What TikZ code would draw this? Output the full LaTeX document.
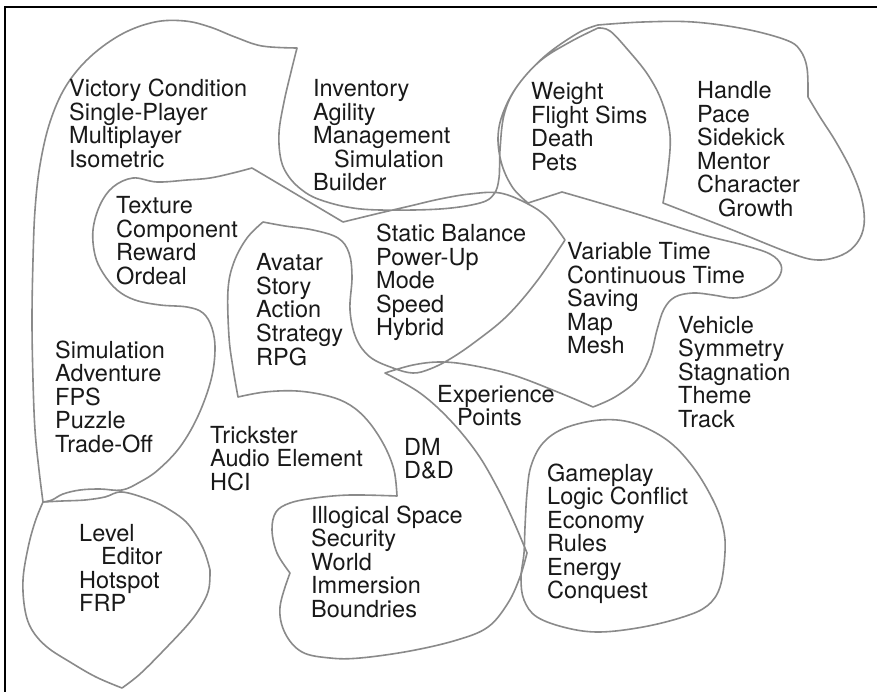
\documentclass[tikz,border=0pt]{standalone}
\usepackage{fontspec}
\setmainfont{TeX Gyre Heros}
\definecolor{blobgray}{RGB}{138,138,138}
\newcommand{\wl}[1]{\hbox{#1}}
\tikzset{
  blob/.style={draw=blobgray, line width=1.6pt, line join=round, line cap=round},
  words/.style={anchor=base west, inner sep=0pt, text=black!90,
    font={\fontsize{23.5}{23.5}\selectfont\lineskiplimit=-30pt}},
  frameline/.style={draw=black, line width=1.5pt},
}
\begin{document}
\begin{tikzpicture}[x=1pt,y=-1pt]
\useasboundingbox (0,0) rectangle (877,692);
\fill[white] (0,0) rectangle (877,692);
\draw[frameline] (5,692) -- (5,7) -- (877,7);

% big continuous stroke
\draw[blob]
 plot[smooth,tension=0.6] coordinates {(43,502) (39,470) (35,430) (33,380) (32,320) (33,260) (35,210) (40,165) (50,122) (66,86) (90,57) (122,34) (155,22) (185,21) (210,27) (235,37) (262,46) (297,48)}
 -- plot[smooth,tension=0.6] coordinates {(297,48) (291,72) (284,102) (279,133) (281,160) (289,177) (302,190) (318,199) (347,207) (380,210) (440,209) (480,203) (494,194) (499,178) (500,150) (504,115) (516,88) (540,61) (570,42) (598,28)}
 -- plot[smooth,tension=0.6] coordinates {(598,28) (610,31) (628,50) (648,75) (662,102) (670,135) (668,170) (663,203)}
 -- plot[smooth,tension=0.6] coordinates {(663,203) (730,229) (790,253) (818,260) (842,255) (857,243) (864,225) (862,200) (852,172) (836,142) (820,117) (808,97)}
 -- plot[smooth,tension=0.6] coordinates {(808,97) (807,68) (800,50) (786,40) (745,29) (693,22) (643,22) (598,25)}
 -- plot[smooth,tension=0.6] coordinates {(598,25) (578,33) (545,56) (518,85) (503,113) (498,138) (502,165) (513,188) (528,203)}
 -- (562,192)
 -- plot[smooth,tension=0.6] coordinates {(562,192) (600,203) (640,215) (700,234) (743,245) (770,254) (781,265) (779,277) (768,287) (750,295) (733,298) (713,295) (693,293) (675,297) (664,309) (657,330) (650,357) (637,380) (615,397) (593,407)}
 -- plot[smooth,tension=0.6] coordinates {(593,407) (560,393) (513,375) (470,365) (440,362) (413,365) (385,373)}
 -- plot[smooth,tension=0.6] coordinates {(385,373) (420,393) (450,420) (477,453) (497,487) (513,520) (527,553)}
 -- plot[smooth,tension=0.6] coordinates {(527,553) (520,577) (508,603) (488,627) (457,640) (410,651) (360,658) (330,658) (302,652) (285,633) (280,607) (290,573)}
 -- plot[smooth,tension=0.6] coordinates {(290,573) (277,553) (272,530) (276,512) (290,503) (315,498) (350,495) (397,496)}
 -- plot[smooth,tension=0.6] coordinates {(397,496) (394,470) (384,445) (368,421) (350,405) (328,396) (297,391) (265,392) (238,397)}
 -- plot[smooth,tension=0.6] coordinates {(238,397) (233,368) (229,337) (228,290) (234,262) (247,238) (263,222)}
 -- plot[smooth,tension=0.6] coordinates {(263,222) (285,226) (313,230) (338,238) (349,253) (352,277) (350,310) (356,338) (370,357) (393,368) (413,373) (430,369) (450,359) (475,342) (507,316) (537,281) (565,240)}
 -- plot[smooth,tension=0.6] coordinates {(565,240) (548,218) (528,204) (500,193) (470,194) (440,199) (410,206) (380,213) (343,222)}
 -- (252,168)
 -- plot[smooth,tension=0.6] coordinates {(252,168) (233,173) (210,178) (187,180) (157,182) (133,178) (113,187) (100,205) (93,230) (95,255) (103,273) (117,290) (135,300) (160,305) (187,307) (203,313) (212,328) (215,350) (211,380) (198,416) (180,447) (158,470) (140,482) (122,490) (100,489) (80,490) (63,494) (52,500) (43,502)}
 -- cycle;

% level blob
\draw[blob]
 plot[smooth,tension=0.6] coordinates {(43,502) (35,522) (28,548) (23,580) (25,610) (32,630) (47,647) (70,662) (96,677) (122,688)}
 -- plot[smooth,tension=0.6] coordinates {(122,688) (140,674) (165,649) (190,622) (203,603) (209,588) (210,570)}
 -- plot[smooth,tension=0.6] coordinates {(210,570) (203,548) (188,524) (170,510) (150,500) (122,492) (105,497) (85,500) (62,501) (43,502)}
 -- cycle;

% gameplay blob
\draw[blob] plot[smooth cycle,tension=0.6] coordinates {(525,527) (527,493) (531,466) (543,443) (565,428) (600,420) (633,423) (667,440) (693,467) (713,500) (723,527) (725,552) (720,587) (707,606) (683,617) (643,627) (600,632) (567,628) (537,617) (524,600) (521,578) (524,553)};

% texts
\node[words] (vic) at (69,97) {\vtop{\wl{Victory Condition}\wl{Single-Player}\wl{Multiplayer}\wl{Isometric}}};
\node[words] (inv) at (313,97) {\vtop{\wl{Inventory}\wl{Agility}\wl{Management}\wl{\kern21pt Simulation}\wl{Builder}}};
\node[words] (wei) at (531,100) {\vtop{\wl{Weight}\wl{Flight Sims}\wl{Death}\wl{Pets}}};
\node[words] (han) at (697,99) {\vtop{\wl{Handle}\wl{Pace}\wl{Sidekick}\wl{Mentor}\wl{Character}\wl{\kern21pt Growth}}};
\node[words] (tex) at (116,214) {\vtop{\wl{Texture}\wl{Component}\wl{Reward}\wl{Ordeal}}};
\node[words] (ava) at (256,271) {\vtop{\wl{Avatar}\wl{Story}\wl{Action}\wl{Strategy}\wl{RPG}}};
\node[words] (sta) at (376,242) {\vtop{\wl{Static Balance}\wl{Power-Up}\wl{Mode}\wl{Speed}\wl{Hybrid}}};
\node[words] (var) at (567,260) {\vtop{\wl{Variable Time}\wl{Continuous Time}\wl{Saving}\wl{Map}\wl{Mesh}}};
\node[words] (veh) at (678,333) {\vtop{\wl{Vehicle}\wl{Symmetry}\wl{Stagnation}\wl{Theme}\wl{Track}}};
\node[words] (exp) at (437,402) {\vtop{\wl{Experience}\wl{\kern20pt Points}}};
\node[words] (sim) at (55,358) {\vtop{\wl{Simulation}\wl{Adventure}\wl{FPS}\wl{Puzzle}\wl{Trade-Off}}};
\node[words] (tri) at (210,443) {\vtop{\wl{Trickster}\wl{Audio Element}\wl{HCI}}};
\node[words] (dm) at (404,455) {\vtop{\wl{DM}\wl{D\&D}}};
\node[words] (ill) at (311,523) {\vtop{\wl{Illogical Space}\wl{Security}\wl{World}\wl{Immersion}\wl{Boundries}}};
\node[words] (lev) at (79,541) {\vtop{\wl{Level}\wl{\kern22pt Editor}\wl{Hotspot}\wl{FRP}}};
\node[words] (gam) at (547,481) {\vtop{\wl{Gameplay}\wl{Logic Conflict}\wl{Economy}\wl{Rules}\wl{Energy}\wl{Conquest}}};
\end{tikzpicture}
\end{document}
